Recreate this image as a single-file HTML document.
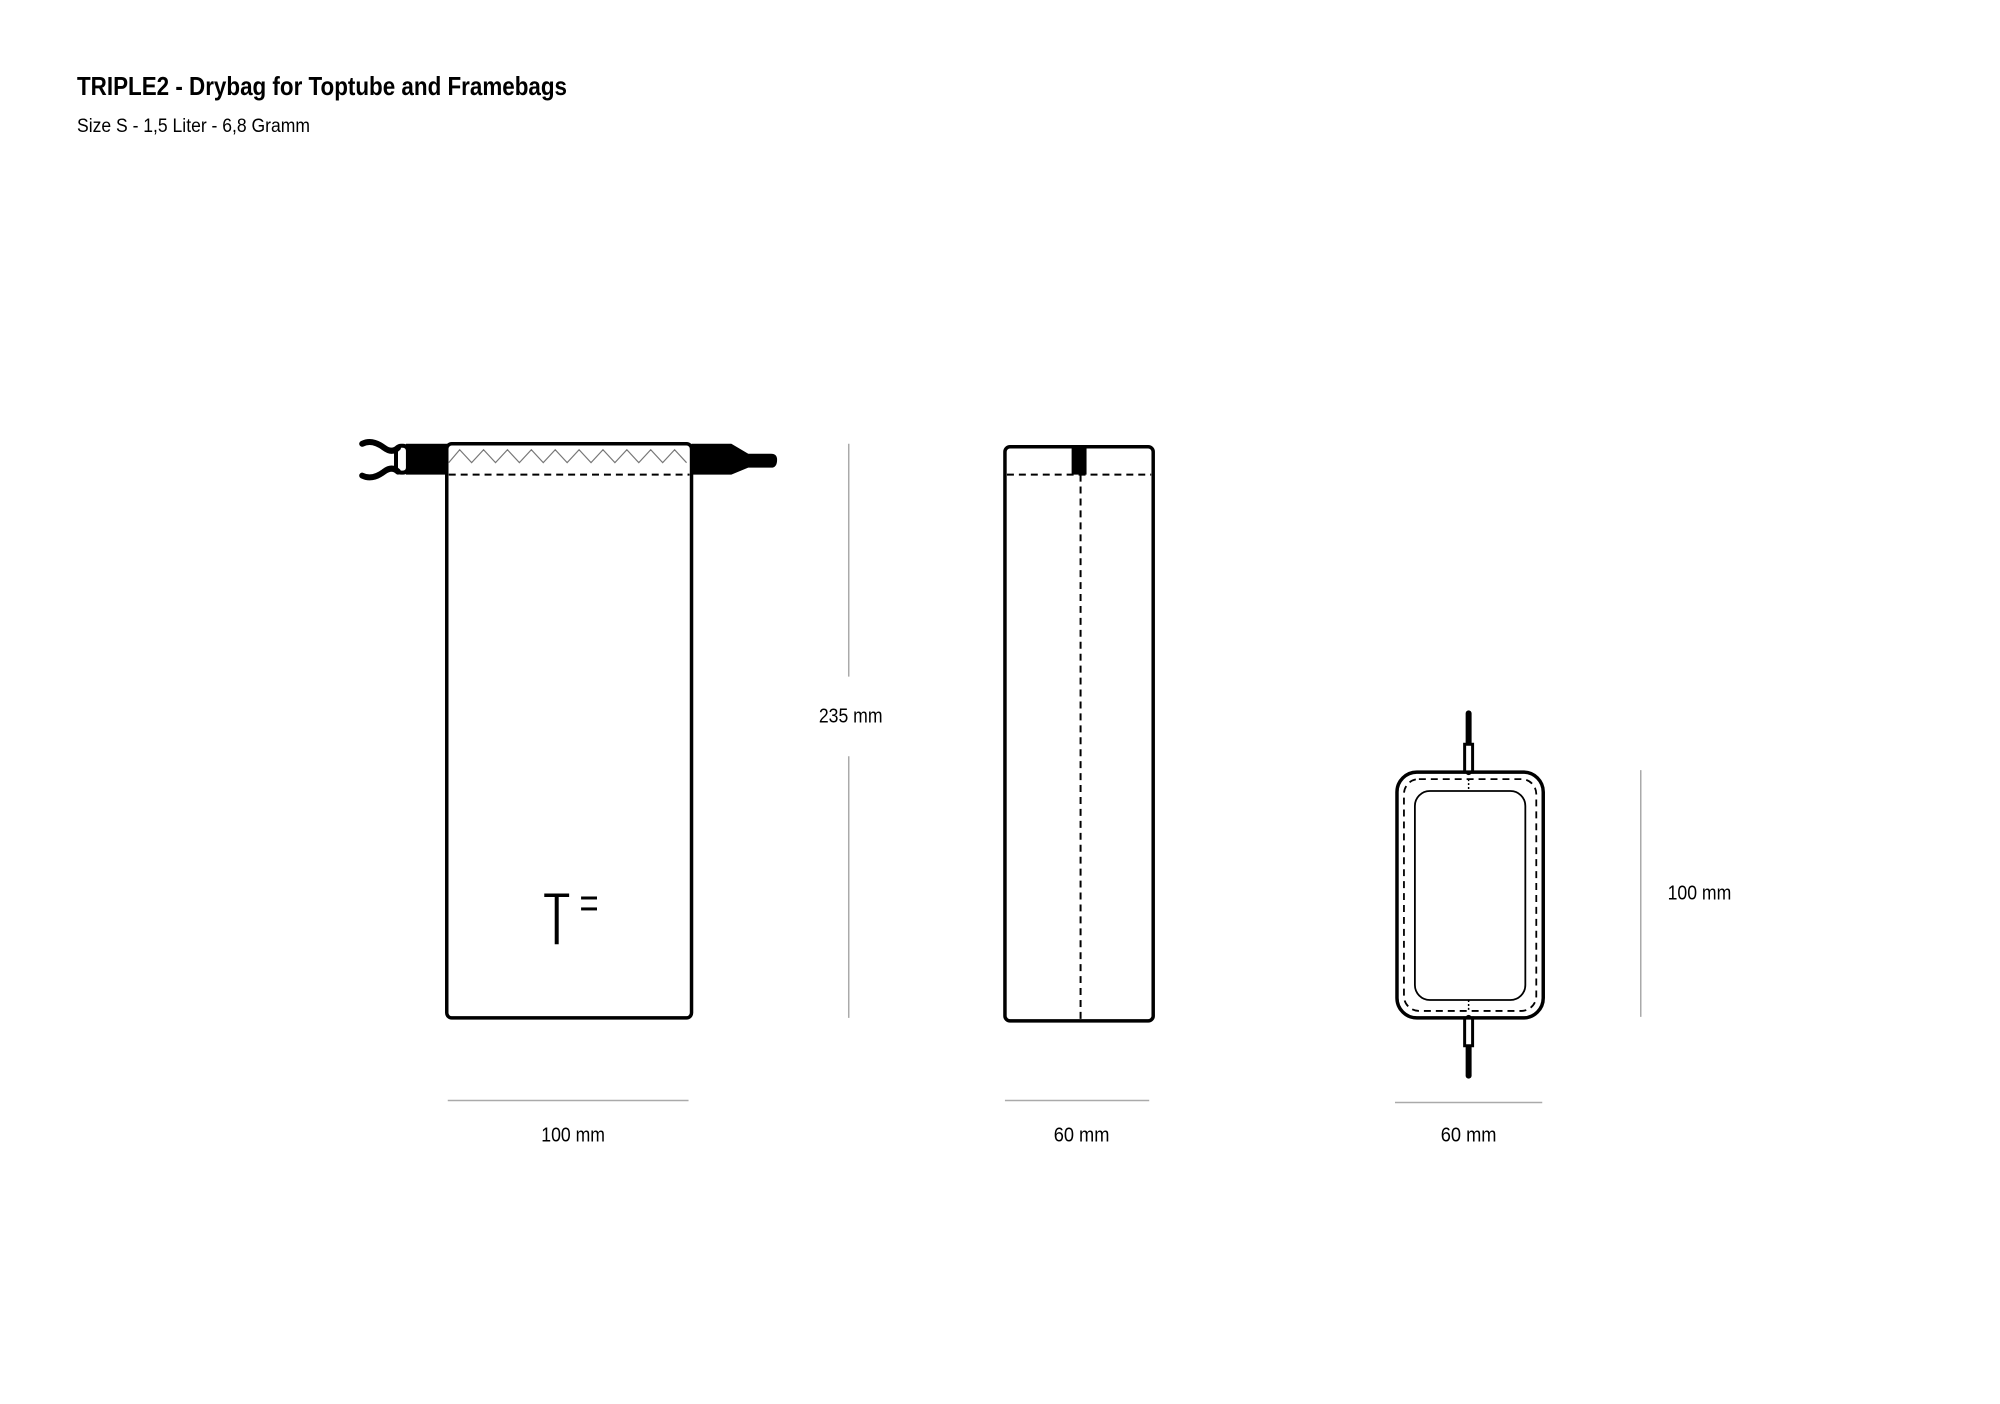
<!DOCTYPE html>
<html><head><meta charset="utf-8"><style>html,body{margin:0;padding:0;background:#fff}svg{display:block}</style></head>
<body>
<svg width="2000" height="1404" viewBox="0 0 2000 1404" xmlns="http://www.w3.org/2000/svg" font-family="Liberation Sans, sans-serif">
<text x="77" y="95" font-size="26" font-weight="bold" textLength="490" lengthAdjust="spacingAndGlyphs">TRIPLE2 - Drybag for Toptube and Framebags</text>
<text x="77" y="132" font-size="19" textLength="233" lengthAdjust="spacingAndGlyphs">Size S - 1,5 Liter - 6,8 Gramm</text>
<g transform="scale(0.995)">
<!-- Bag 1 -->
<g fill="none" stroke="#000">
<rect x="449" y="446" width="246" height="577" rx="5" stroke-width="3.5"/>
<line x1="451" y1="477" x2="693" y2="477" stroke-width="2" stroke-dasharray="7,5"/>
<polyline points="451,465 462,452 474,465 486,452 498,465 510,452 522,465 534,452 546,465 558,452 570,465 582,452 594,465 606,452 618,465 630,452 642,465 654,452 666,465 678,452 690,465" stroke="#777" stroke-width="1.2"/>
</g>
<rect x="408" y="446" width="42" height="31" fill="#000"/>
<rect x="398" y="448" width="12" height="27" rx="5" fill="none" stroke="#000" stroke-width="4"/>
<path d="M364,446 q10,-5 22,4 q8,6 14,0" fill="none" stroke="#000" stroke-width="6" stroke-linecap="round"/>
<path d="M364,478 q10,5 22,-4 q8,-6 14,0" fill="none" stroke="#000" stroke-width="6" stroke-linecap="round"/>
<path d="M695,446 L735,446 L752,456 L775,456 Q781,456 781,462 Q781,470 775,470 L752,470 L735,477 L695,477 Z" fill="#000"/>
<rect x="547" y="898" width="25" height="3.5" fill="#000"/>
<rect x="557.5" y="898" width="4" height="51" fill="#000"/>
<rect x="584" y="901" width="16" height="3" fill="#000"/><rect x="584" y="912" width="16" height="3" fill="#000"/>
<line x1="853" y1="446" x2="853" y2="680" stroke="#aaa" stroke-width="1.5"/>
<line x1="853" y1="760" x2="853" y2="1023" stroke="#aaa" stroke-width="1.5"/>
<text x="855" y="726" font-size="20" text-anchor="middle" textLength="64" lengthAdjust="spacingAndGlyphs">235 mm</text>
<line x1="450" y1="1106" x2="692" y2="1106" stroke="#aaa" stroke-width="1.5"/>
<text x="576" y="1147" font-size="20" text-anchor="middle" textLength="64" lengthAdjust="spacingAndGlyphs">100 mm</text>

<!-- Bag 2 -->
<rect x="1010" y="449" width="149" height="577" rx="5" fill="none" stroke="#000" stroke-width="3.5"/>
<line x1="1012" y1="477" x2="1157" y2="477" stroke="#000" stroke-width="2" stroke-dasharray="7,5"/>
<line x1="1086" y1="477" x2="1086" y2="1024" stroke="#000" stroke-width="2" stroke-dasharray="7,5"/>
<rect x="1077" y="449" width="15" height="28" fill="#000"/>
<line x1="1010" y1="1106" x2="1155" y2="1106" stroke="#aaa" stroke-width="1.5"/>
<text x="1087" y="1147" font-size="20" text-anchor="middle" textLength="56" lengthAdjust="spacingAndGlyphs">60 mm</text>

<!-- Bag 3 -->
<line x1="1476" y1="717" x2="1476" y2="776" stroke="#000" stroke-width="6" stroke-linecap="round"/>
<rect x="1472" y="748" width="8" height="28" fill="#fff" stroke="#000" stroke-width="3"/>
<line x1="1476" y1="1023" x2="1476" y2="1081" stroke="#000" stroke-width="6" stroke-linecap="round"/>
<rect x="1472" y="1023" width="8" height="28" fill="#fff" stroke="#000" stroke-width="3"/>
<rect x="1404" y="776" width="147" height="247" rx="20" fill="none" stroke="#000" stroke-width="3.5"/>
<rect x="1411" y="783" width="133" height="233" rx="15" fill="none" stroke="#000" stroke-width="1.8" stroke-dasharray="7,5"/>
<rect x="1422" y="795" width="111" height="210" rx="15" fill="none" stroke="#000" stroke-width="1.8"/>
<line x1="1476" y1="783" x2="1476" y2="795" stroke="#000" stroke-width="1.5" stroke-dasharray="2,2"/>
<line x1="1476" y1="1005" x2="1476" y2="1016" stroke="#000" stroke-width="1.5" stroke-dasharray="2,2"/>
<line x1="1649" y1="774" x2="1649" y2="1022" stroke="#aaa" stroke-width="1.5"/>
<text x="1708" y="904" font-size="20" text-anchor="middle" textLength="64" lengthAdjust="spacingAndGlyphs">100 mm</text>
<line x1="1402" y1="1108" x2="1550" y2="1108" stroke="#aaa" stroke-width="1.5"/>
<text x="1476" y="1147" font-size="20" text-anchor="middle" textLength="56" lengthAdjust="spacingAndGlyphs">60 mm</text>
</g>
</svg>
</body></html>
